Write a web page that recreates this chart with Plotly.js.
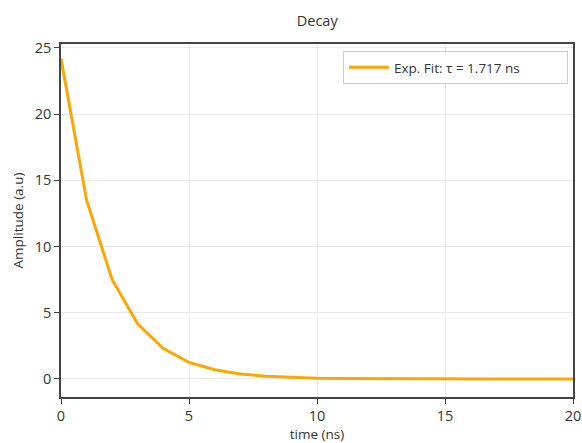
<!DOCTYPE html>
<html>
<head>
<meta charset="utf-8">
<script src="https://cdn.plot.ly/plotly-3.0.1.min.js"></script>
<style>html,body{margin:0;padding:0;background:#fff;}#chart{width:582px;height:443px;}</style>
</head>
<body>
<div id="chart"></div>
<script>
const timeNs = [0,1,2,3,4,5,6,7,8,9,10,11,12,13,14,15,16,17,18,19,20];
const amplitude = [24.2,13.5,7.5,4.15,2.3,1.25,0.7,0.38,0.21,0.12,0.06,0.035,0.02,0.01,0.006,0.003,0.002,0.001,0.0006,0.0003,0.0002];
const seriesName = 'Exp. Fit: τ = 1.717 ns';

const font = "'Open Sans', 'Noto Sans', sans-serif";
const trace = {
  x: timeNs, y: amplitude, type: 'scatter', mode: 'lines', name: seriesName,
  line: {color: '#FFA500', width: 3}
};
const axisCommon = {
  showline: true, mirror: true, linecolor: '#444', linewidth: 1.5,
  ticks: 'outside', ticklen: 5, tickcolor: '#444',
  showgrid: true, gridcolor: '#e8e8e8', zeroline: false,
  tickfont: {family: font, size: 14.5, color: '#333'}
};
const layout = {
  width: 582, height: 443,
  margin: {l: 61, r: 9, t: 44, b: 46},
  paper_bgcolor: '#fff', plot_bgcolor: '#fff',
  title: {text: 'Decay', x: 0.545, xanchor: 'center', y: 0.965, font: {family: font, size: 14.5, color: '#333'}},
  xaxis: Object.assign({}, axisCommon, {range: [0, 20], dtick: 5,
    title: {text: 'time (ns)', standoff: 4, font: {family: font, size: 13.5, color: '#333'}}}),
  yaxis: Object.assign({}, axisCommon, {range: [-1.36, 25.3], dtick: 5,
    title: {text: 'Amplitude (a.u)', standoff: 8, font: {family: font, size: 13.5, color: '#333'}}}),
  showlegend: true,
  legend: {orientation: 'h', x: 0.99, xanchor: 'right', y: 0.98, yanchor: 'top', bgcolor: '#fff',
    bordercolor: '#ccc', borderwidth: 1, itemwidth: 40, entrywidth: 168,
    font: {family: font, size: 13.5, color: '#333'}}
};
Plotly.newPlot('chart', [trace], layout, {displayModeBar: false});
</script>
</body>
</html>
